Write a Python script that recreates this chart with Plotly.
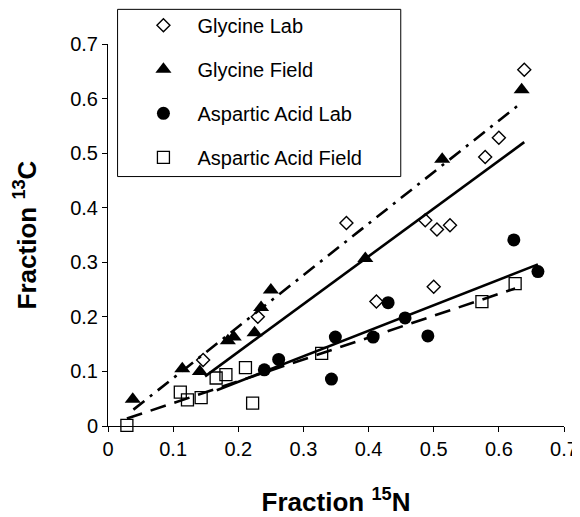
import plotly.graph_objects as go
import numpy as np

# ---- data ----
gly_lab_x = [0.146, 0.230, 0.366, 0.412, 0.487, 0.500, 0.505, 0.525, 0.579, 0.600, 0.639]
gly_lab_y = [0.121, 0.200, 0.372, 0.228, 0.377, 0.255, 0.360, 0.368, 0.493, 0.528, 0.653]

gly_field_x = [0.038, 0.114, 0.141, 0.184, 0.193, 0.225, 0.235, 0.250, 0.395, 0.513, 0.635]
gly_field_y = [0.049, 0.105, 0.100, 0.156, 0.163, 0.171, 0.217, 0.249, 0.307, 0.489, 0.616]

asp_lab_x = [0.240, 0.262, 0.343, 0.349, 0.407, 0.430, 0.456, 0.491, 0.623, 0.660]
asp_lab_y = [0.103, 0.122, 0.086, 0.163, 0.163, 0.226, 0.198, 0.165, 0.341, 0.283]

asp_field_x = [0.029, 0.111, 0.122, 0.143, 0.166, 0.181, 0.211, 0.222, 0.328, 0.574, 0.625]
asp_field_y = [0.001, 0.062, 0.048, 0.052, 0.088, 0.094, 0.107, 0.042, 0.133, 0.228, 0.261]

series_names = ["Glycine Lab", "Glycine Field", "Aspartic Acid Lab", "Aspartic Acid Field"]

# trend lines: slope, intercept, x start, x end
trend_slope = [0.876, 0.944, 0.468, 0.400]
trend_intercept = [-0.0395, -0.0068, -0.0127, 0.002]
trend_x_start = [0.149, 0.039, 0.167, 0.029]
trend_x_end = [0.639, 0.629, 0.660, 0.625]

x_ticks = [0, 0.1, 0.2, 0.3, 0.4, 0.5, 0.6, 0.7]
y_ticks = [0, 0.1, 0.2, 0.3, 0.4, 0.5, 0.6, 0.7]

FONT = "Liberation Sans, Arial, sans-serif"

fig = go.Figure()

xs = [gly_lab_x, gly_field_x, asp_lab_x, asp_field_x]
ys = [gly_lab_y, gly_field_y, asp_lab_y, asp_field_y]
markers = [
    dict(symbol="diamond-open", size=10, color="black", line=dict(width=1.4, color="black")),
    dict(symbol="triangle-up", size=14, color="black"),
    dict(symbol="circle", size=13, color="black"),
    dict(symbol="square-open", size=12, color="black", line=dict(width=1.3, color="black")),
]
for i in range(4):
    fig.add_trace(go.Scatter(
        x=xs[i], y=ys[i], mode="markers", name=series_names[i],
        marker=markers[i], cliponaxis=False, legendgroup=str(i),
    ))

dashes = ["solid", "14px,7px,3px,7px", "solid", "16px,9px"]
for i in range(4):
    tx = np.array([trend_x_start[i], trend_x_end[i]])
    ty = trend_slope[i] * tx + trend_intercept[i]
    fig.add_trace(go.Scatter(
        x=tx, y=ty, mode="lines", showlegend=False, hoverinfo="skip",
        line=dict(color="black", width=2.6, dash=dashes[i]), cliponaxis=False,
    ))

axis_common = dict(
    range=[0, 0.7], ticks="outside", ticklen=5, tickwidth=1,
    tickcolor="black", showline=True, linecolor="black", linewidth=1,
    showgrid=False, zeroline=False, tickfont=dict(family=FONT, size=20, color="black"),
)

fig.update_xaxes(**axis_common)
fig.update_yaxes(**axis_common)
fig.update_xaxes(tickvals=x_ticks, ticktext=[str(v) for v in x_ticks],
                 title=dict(text="<b>Fraction <sup>15</sup>N</b>",
                            font=dict(family=FONT, size=26, color="black"), standoff=39))
fig.update_yaxes(tickvals=y_ticks, ticktext=[str(v) for v in y_ticks],
                 title=dict(text="<b>Fraction <sup>13</sup>C</b>",
                            font=dict(family=FONT, size=26, color="black"), standoff=26))

# page body has an 8px default margin, so the figure is 8px smaller and shifted
fig.update_layout(
    width=572, height=509,
    margin=dict(l=100, r=16, t=36, b=91, autoexpand=False),
    plot_bgcolor="white", paper_bgcolor="white",
    showlegend=True,
    legend=dict(
        x=0.047, y=1.10, xanchor="left", yanchor="top",
        bgcolor="rgba(0,0,0,0)", borderwidth=0,
        font=dict(family=FONT, size=20, color="black"),
        traceorder="grouped", tracegroupgap=15, itemwidth=58,
    ),
    shapes=[dict(type="rect", xref="paper", yref="paper",
                 x0=0.021, x1=0.642, y0=0.653, y1=1.0907,
                 line=dict(color="black", width=1), fillcolor="rgba(0,0,0,0)", layer="above")],
)

fig.write_html("out.html")
